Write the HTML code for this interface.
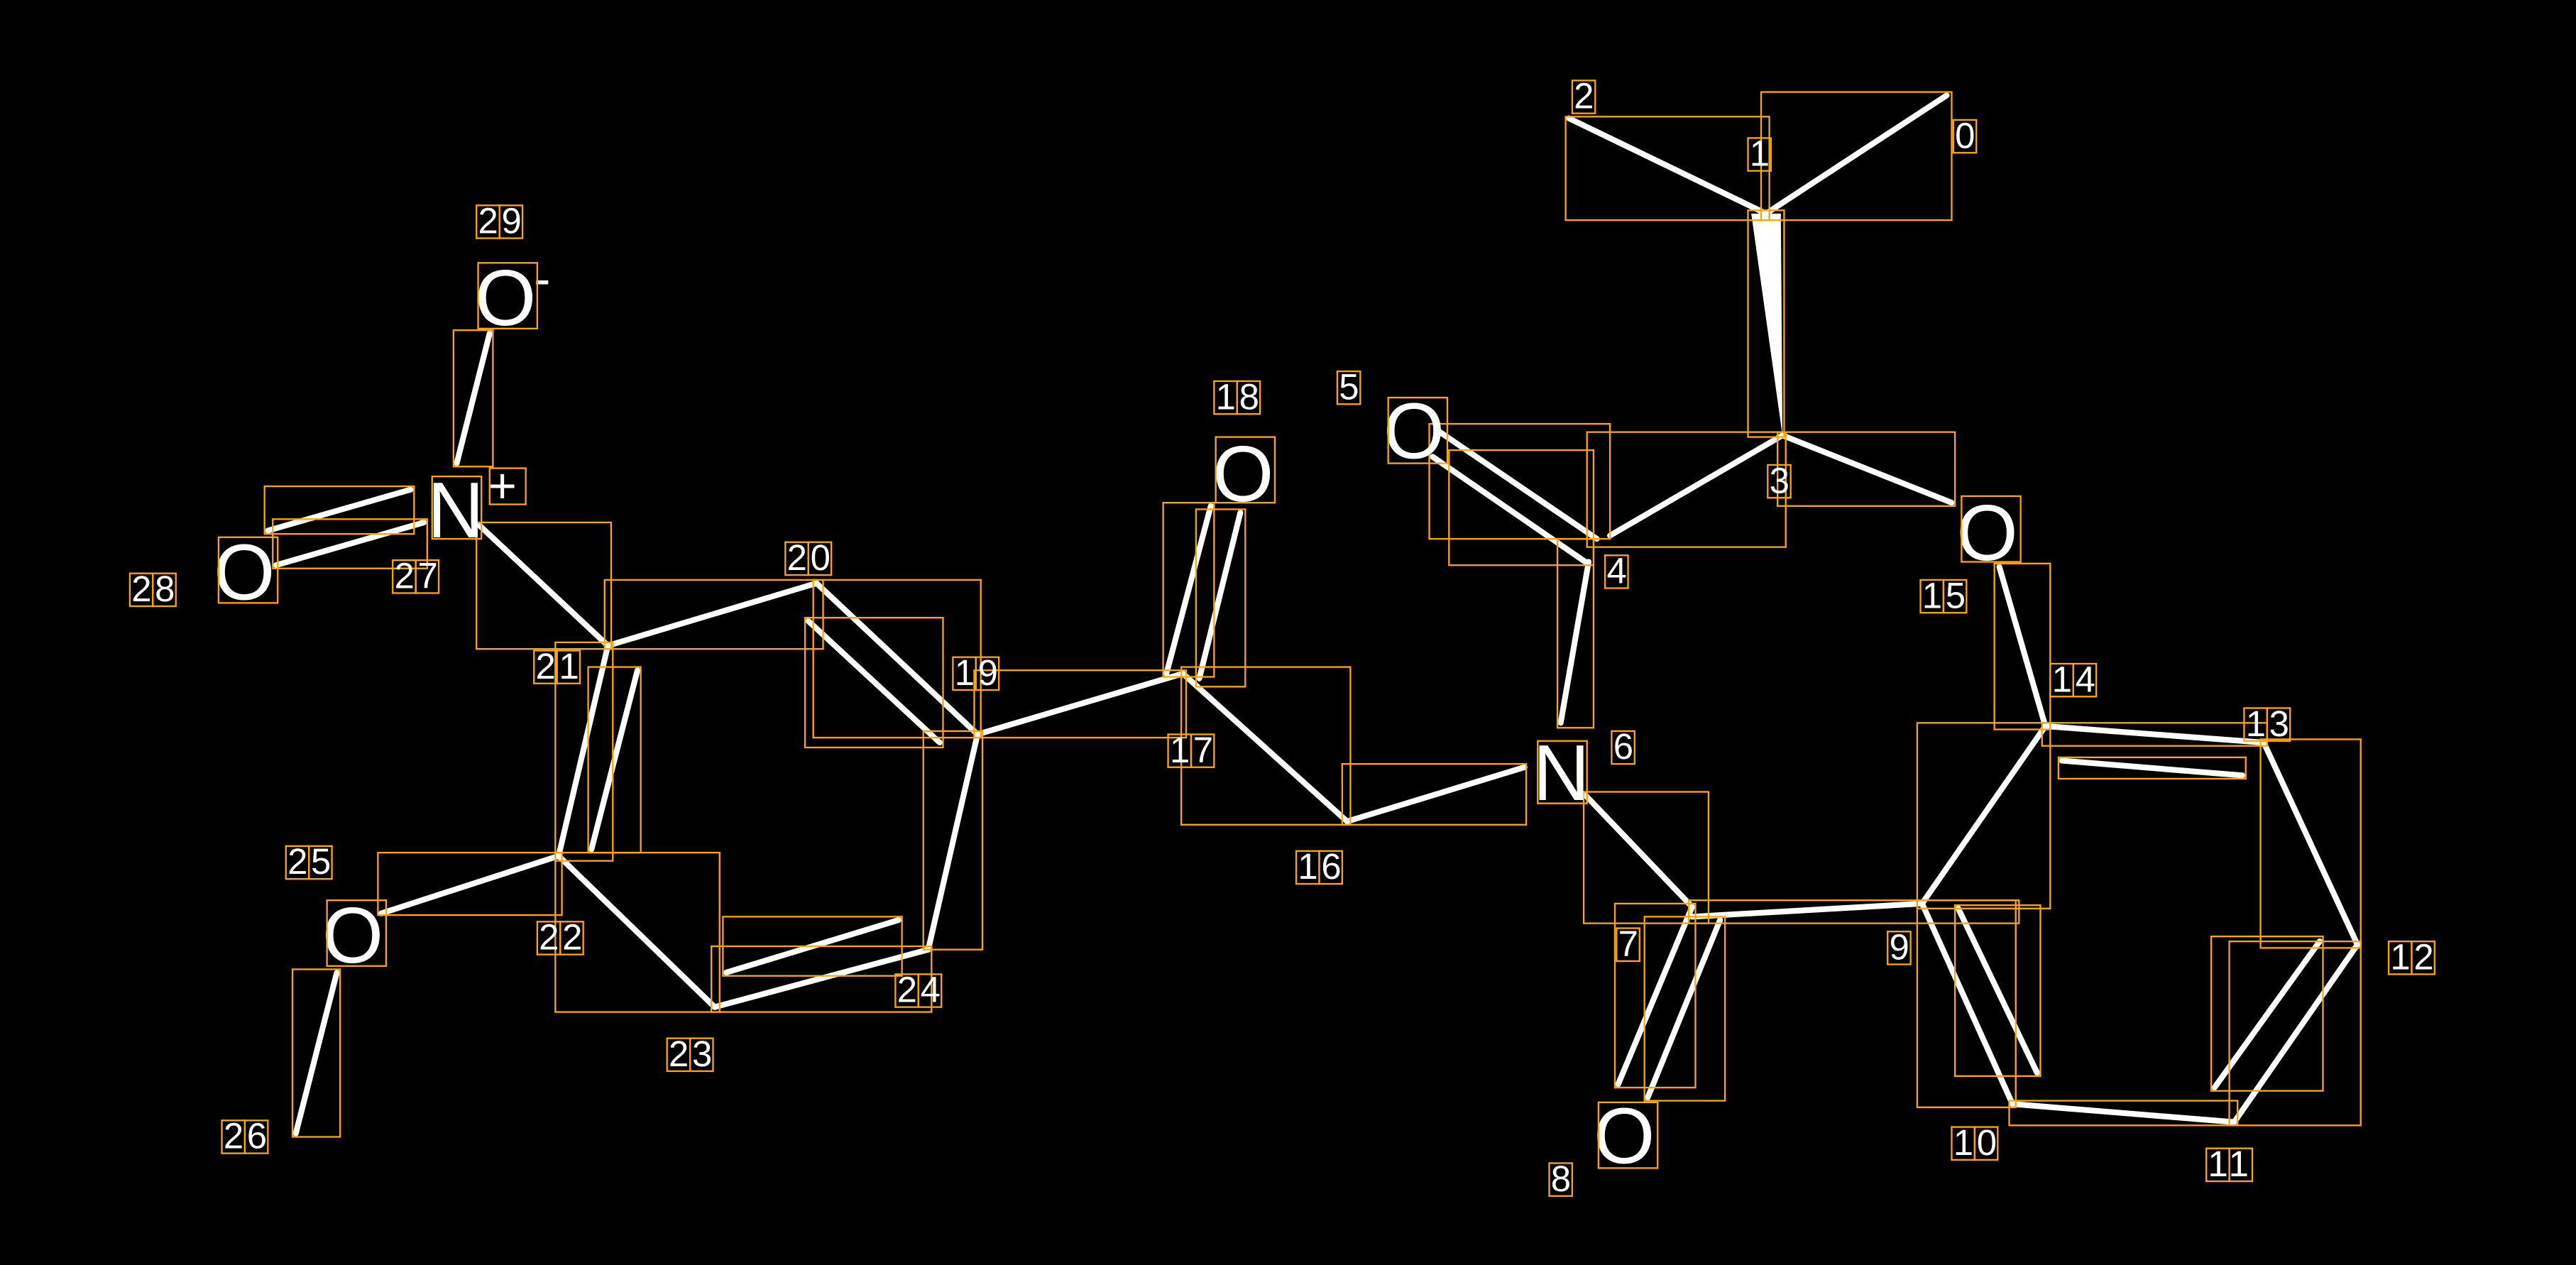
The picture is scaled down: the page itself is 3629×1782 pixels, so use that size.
<!DOCTYPE html>
<html><head><meta charset="utf-8"><style>
html,body{margin:0;padding:0;background:#000;}
svg{display:block;}
text{font-family:"Liberation Sans","DejaVu Sans",sans-serif;fill:#fff;}
</style></head><body>
<svg width="3629" height="1782" viewBox="0 0 1568 770" xmlns="http://www.w3.org/2000/svg">
<rect width="1568" height="770" fill="#000"/>
<g stroke="#fff" stroke-width="3.5" stroke-linecap="round" fill="none">
<line x1="1185" y1="58" x2="1075" y2="130"/>
<line x1="1075" y1="130" x2="955" y2="72"/>
<line x1="1085" y1="265" x2="980" y2="326"/>
<line x1="1085" y1="265" x2="1188" y2="306"/>
<line x1="972" y1="328" x2="875" y2="262"/>
<line x1="965" y1="342" x2="872" y2="278"/>
<line x1="967" y1="342" x2="950" y2="440"/>
<line x1="965" y1="484" x2="1030" y2="552"/>
<line x1="820" y1="500" x2="928" y2="467"/>
<line x1="1030" y1="552" x2="985" y2="660"/>
<line x1="1047" y1="560" x2="1003" y2="668"/>
<line x1="1030" y1="558" x2="1170" y2="550"/>
<line x1="1170" y1="550" x2="1225" y2="672"/>
<line x1="1192" y1="553" x2="1240" y2="653"/>
<line x1="1225" y1="672" x2="1360" y2="683"/>
<line x1="1360" y1="683" x2="1435" y2="575"/>
<line x1="1348" y1="662" x2="1412" y2="573"/>
<line x1="1435" y1="575" x2="1378" y2="452"/>
<line x1="1245" y1="442" x2="1378" y2="452"/>
<line x1="1255" y1="463" x2="1365" y2="472"/>
<line x1="1245" y1="442" x2="1170" y2="550"/>
<line x1="1245" y1="442" x2="1217" y2="345"/>
<line x1="820" y1="500" x2="720" y2="410"/>
<line x1="710" y1="410" x2="737" y2="308"/>
<line x1="730" y1="413" x2="755" y2="312"/>
<line x1="720" y1="410" x2="595" y2="447"/>
<line x1="497" y1="355" x2="595" y2="447"/>
<line x1="492" y1="378" x2="572" y2="452"/>
<line x1="497" y1="355" x2="370" y2="393"/>
<line x1="370" y1="393" x2="340" y2="521"/>
<line x1="360" y1="517" x2="388" y2="408"/>
<line x1="340" y1="521" x2="435" y2="613"/>
<line x1="435" y1="613" x2="565" y2="578"/>
<line x1="442" y1="592" x2="547" y2="560"/>
<line x1="565" y1="578" x2="595" y2="447"/>
<line x1="340" y1="521" x2="232" y2="556"/>
<line x1="205" y1="592" x2="180" y2="690"/>
<line x1="370" y1="393" x2="292" y2="320"/>
<line x1="258" y1="318" x2="168" y2="344"/>
<line x1="250" y1="298" x2="163" y2="323"/>
<line x1="278" y1="282" x2="298" y2="203"/>
</g>
<polygon points="1066,130 1084,130 1085,265" fill="#fff"/>
<g stroke="#FFA500" stroke-width="1" fill="none">
<rect x="1072" y="56" width="116" height="78"/>
<rect x="953" y="71" width="124" height="63"/>
<rect x="1064" y="128" width="22" height="138"/>
<rect x="966" y="263" width="121" height="70"/>
<rect x="1082" y="263" width="108" height="45"/>
<rect x="870" y="258" width="110" height="70"/>
<rect x="882" y="274" width="88" height="70"/>
<rect x="948" y="328" width="22" height="115"/>
<rect x="964" y="482" width="76" height="80"/>
<rect x="817" y="465" width="112" height="37"/>
<rect x="983" y="550" width="49" height="112"/>
<rect x="1001" y="558" width="49" height="112"/>
<rect x="1028" y="548" width="201" height="14"/>
<rect x="1167" y="548" width="60" height="126"/>
<rect x="1190" y="551" width="52" height="104"/>
<rect x="1223" y="670" width="139" height="15"/>
<rect x="1357" y="573" width="80" height="112"/>
<rect x="1346" y="570" width="68" height="94"/>
<rect x="1376" y="450" width="61" height="127"/>
<rect x="1243" y="440" width="137" height="14"/>
<rect x="1253" y="461" width="114" height="13"/>
<rect x="1167" y="440" width="81" height="113"/>
<rect x="1214" y="343" width="34" height="101"/>
<rect x="719" y="406" width="103" height="96"/>
<rect x="708" y="306" width="31" height="106"/>
<rect x="728" y="310" width="30" height="108"/>
<rect x="593" y="408" width="129" height="41"/>
<rect x="495" y="353" width="102" height="96"/>
<rect x="490" y="376" width="84" height="79"/>
<rect x="368" y="353" width="133" height="42"/>
<rect x="338" y="391" width="35" height="133"/>
<rect x="358" y="406" width="32" height="113"/>
<rect x="338" y="519" width="100" height="97"/>
<rect x="433" y="576" width="134" height="40"/>
<rect x="440" y="558" width="109" height="36"/>
<rect x="562" y="445" width="36" height="133"/>
<rect x="230" y="519" width="112" height="38"/>
<rect x="178" y="590" width="29" height="102"/>
<rect x="290" y="318" width="82" height="77"/>
<rect x="166" y="316" width="94" height="30"/>
<rect x="161" y="296" width="91" height="29"/>
<rect x="276" y="201" width="24" height="83"/>
</g>
<g font-size="48">
<text x="842" y="279">O</text>
<text x="738" y="305">O</text>
<text x="933" y="487">N</text>
<text x="1191" y="341">O</text>
<text x="970" y="708">O</text>
<text x="196" y="586">O</text>
<text x="130" y="365">O</text>
<text x="260" y="327">N</text>
<text x="289" y="198">O</text>
</g>
<g font-size="30"><text x="297" y="306">+</text><text x="325" y="180">-</text></g>
<g stroke="#FFA500" stroke-width="1" fill="none">
<rect x="845" y="242" width="36" height="40"/><rect x="740" y="266" width="36" height="40"/>
<rect x="936" y="451" width="30" height="38"/><rect x="1194" y="302" width="36" height="40"/>
<rect x="973" y="671" width="36" height="40"/><rect x="199" y="548" width="36" height="40"/>
<rect x="133" y="327" width="36" height="40"/><rect x="263" y="290" width="30" height="38"/>
<rect x="291" y="160" width="36" height="40"/><rect x="298" y="285" width="22" height="22"/>
</g>
<g font-size="22" letter-spacing="2">
<text x="1190" y="90">0</text><text x="1065" y="101">1</text><text x="958" y="66">2</text>
<text x="1077" y="300">3</text><text x="978" y="355">4</text><text x="815" y="243">5</text>
<text x="982" y="462">6</text><text x="985" y="582">7</text><text x="944" y="725">8</text>
<text x="1150" y="584">9</text><text x="1189" y="703">10</text><text x="1344" y="716">11</text>
<text x="1455" y="590">12</text><text x="1367" y="448">13</text><text x="1249" y="421">14</text>
<text x="1170" y="370">15</text><text x="790" y="535">16</text><text x="712" y="464">17</text>
<text x="740" y="249">18</text><text x="581" y="417">19</text><text x="479" y="347">20</text>
<text x="326" y="413">21</text><text x="328" y="578">22</text><text x="407" y="649">23</text>
<text x="546" y="610">24</text><text x="175" y="532">25</text><text x="136" y="699">26</text>
<text x="240" y="358">27</text><text x="80" y="366">28</text><text x="291" y="142">29</text>
</g>
<g stroke="#FFA500" stroke-width="1" fill="none">
<rect x="1189" y="73" width="14" height="20"/>
<rect x="1064" y="84" width="14" height="20"/>
<rect x="957" y="49" width="14" height="20"/>
<rect x="1076" y="283" width="14" height="20"/>
<rect x="977" y="338" width="14" height="20"/>
<rect x="814" y="226" width="14" height="20"/>
<rect x="981" y="445" width="14" height="20"/>
<rect x="984" y="565" width="14" height="20"/>
<rect x="943" y="708" width="14" height="20"/>
<rect x="1149" y="567" width="14" height="20"/>
<rect x="1188" y="686" width="14" height="20"/><rect x="1202" y="686" width="14" height="20"/>
<rect x="1343" y="699" width="14" height="20"/><rect x="1357" y="699" width="14" height="20"/>
<rect x="1454" y="573" width="14" height="20"/><rect x="1468" y="573" width="14" height="20"/>
<rect x="1366" y="431" width="14" height="20"/><rect x="1380" y="431" width="14" height="20"/>
<rect x="1248" y="404" width="14" height="20"/><rect x="1262" y="404" width="14" height="20"/>
<rect x="1169" y="353" width="14" height="20"/><rect x="1183" y="353" width="14" height="20"/>
<rect x="789" y="518" width="14" height="20"/><rect x="803" y="518" width="14" height="20"/>
<rect x="711" y="447" width="14" height="20"/><rect x="725" y="447" width="14" height="20"/>
<rect x="739" y="232" width="14" height="20"/><rect x="753" y="232" width="14" height="20"/>
<rect x="580" y="400" width="14" height="20"/><rect x="594" y="400" width="14" height="20"/>
<rect x="478" y="330" width="14" height="20"/><rect x="492" y="330" width="14" height="20"/>
<rect x="325" y="396" width="14" height="20"/><rect x="339" y="396" width="14" height="20"/>
<rect x="327" y="561" width="14" height="20"/><rect x="341" y="561" width="14" height="20"/>
<rect x="406" y="632" width="14" height="20"/><rect x="420" y="632" width="14" height="20"/>
<rect x="545" y="593" width="14" height="20"/><rect x="559" y="593" width="14" height="20"/>
<rect x="174" y="515" width="14" height="20"/><rect x="188" y="515" width="14" height="20"/>
<rect x="135" y="682" width="14" height="20"/><rect x="149" y="682" width="14" height="20"/>
<rect x="239" y="341" width="14" height="20"/><rect x="253" y="341" width="14" height="20"/>
<rect x="79" y="349" width="14" height="20"/><rect x="93" y="349" width="14" height="20"/>
<rect x="290" y="125" width="14" height="20"/><rect x="304" y="125" width="14" height="20"/>
</g>
</svg>
</body></html>
